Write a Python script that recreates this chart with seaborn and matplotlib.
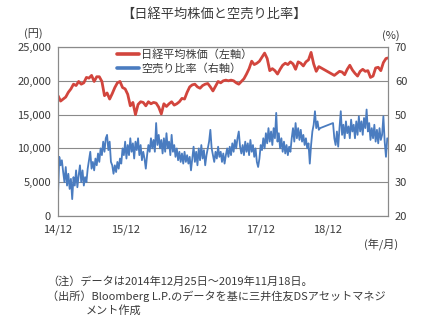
import numpy as np
import pandas as pd
import matplotlib
matplotlib.use("Agg")
import matplotlib.pyplot as plt
import matplotlib.dates as mdates
from matplotlib.ticker import FuncFormatter, FixedLocator
import seaborn as sns

sns.set_style("white")
plt.rcParams["font.family"] = ["Noto Sans CJK JP", "DejaVu Sans"]

# ---- data -------------------------------------------------------------
start = "2014-12-25"
end = "2019-11-18"

# Nikkei 225 (yen), sampled every 14 days from 2014-12-25 (None = no data)
nikkei_2015 = [17800, 17000, 17300, 17600, 18300, 18800, 19500, 19300, 19900, 19500,
               19700, 20500, 20400, 20800, 19900, 20600, 20600, 19900, 17800, 18200,
               17300, 18100, 19000, 19700, 19900, 19000]
nikkei_2016 = [18800, 18000, 16300, 16800, 15000, 16500, 16900, 16800, 16300, 16900,
               16600, 16800, 16700, 16100, 15100, 16600, 16200, 16600, 16900, 16400,
               16600, 16900, 17400, 17300, 18300, 19100]
nikkei_2017 = [19400, 19500, 19100, 18900, 19300, 19500, 19600, 19100, 18500, 19200,
               19900, 19700, 20000, 20100, 20000, 20100, 20000, 19700, 19500, 19900,
               20300, 21000, 21800, 22900, 22400, 22600]
nikkei_2018 = [22900, 23500, 24100, 23300, 21500, 21800, 21500, 21000, 21700, 22300,
               22600, 22400, 22800, 22500, 21700, 22800, 22600, 22200, 22800, 23100,
               24200, 22500, 21400, 22100, None, None]
nikkei_2019 = [None, None, None, 20800, 21100, 21400, 21300, 20900, 21700, 22300,
               21600, 21100, 20700, 21400, 21700, 21400, 21500, 20500, 20700, 21900,
               22000, 21500, 22700, 23300, 23400]

# Short-selling ratio (%), sampled weekly from 2014-12-25 (None = no data)
short_2015 = [26.0, 37.5, 35.0, 36.5, 33.0, 30.0, 34.5, 29.0, 32.5, 28.0,
              31.0, 25.0, 31.5, 29.0, 33.5, 28.5, 32.0, 35.0, 30.0, 33.5,
              29.0, 31.5, 30.0, 34.0, 36.5, 39.0, 34.0, 36.0, 33.5, 37.0,
              35.0, 38.5, 36.0, 40.0, 38.0, 42.0, 39.0, 43.0, 44.0, 39.5,
              42.0, 36.0, 35.0, 32.5, 35.0, 33.0, 36.0, 34.0, 37.0, 35.5,
              40.0, 38.0]
short_2016 = [42.0, 37.0, 41.0, 38.0, 43.0, 39.0, 41.5, 37.0, 42.0, 39.5,
              43.0, 38.0, 41.0, 36.5, 39.0, 37.0, 34.0, 38.0, 41.0, 39.0,
              43.0, 40.0, 42.5, 39.0, 47.5, 41.0, 44.0, 40.0, 42.5, 38.5,
              43.0, 39.0, 44.5, 40.0, 42.0, 38.0, 44.0, 39.0, 41.0, 37.5,
              40.0, 36.5, 39.0, 36.0, 38.5, 35.5, 39.0, 36.0, 38.0, 35.5,
              37.5, 33.5]
short_2017 = [37.0, 40.5, 36.0, 39.0, 35.0, 40.0, 36.5, 41.0, 37.0, 39.5,
              35.0, 38.0, 40.0, 42.0, 45.5, 40.0, 38.0, 36.0, 39.0, 37.0,
              40.5, 37.5, 39.0, 36.0, 38.5, 35.5, 38.0, 40.0, 37.5, 40.5,
              38.0, 41.5, 39.0, 42.5, 40.0, 43.0, 45.0, 40.5, 38.5, 41.0,
              38.0, 42.0, 39.0, 41.5, 38.0, 42.5, 39.0, 41.0, 37.5, 40.0,
              36.0, 34.5]
short_2018 = [37.0, 41.0, 39.5, 43.0, 40.0, 44.5, 41.5, 46.0, 42.0, 45.0,
              41.0, 46.0, 43.0, 50.5, 42.0, 44.5, 40.0, 43.0, 39.0, 42.0,
              38.5, 41.0, 38.0, 40.5, 39.0, 43.0, 46.0, 42.0, 47.5, 43.0,
              46.0, 42.5, 45.5, 42.0, 44.0, 41.0, 43.0, 40.0, 41.5, 35.5,
              41.0, 45.0, 47.0, 51.0, 46.0, 48.0, 45.5, 46.0, None, None,
              None, None]
short_2019 = [None, None, None, None, None, 47.5, 43.0, 41.0, 45.0, 40.5,
              46.0, 51.0, 44.0, 47.0, 43.0, 48.0, 44.5, 46.5, 43.0, 48.5,
              45.0, 47.0, 43.0, 48.0, 44.0, 49.5, 45.0, 48.0, 44.0, 49.0,
              46.0, 51.5, 45.0, 47.5, 42.5, 46.0, 43.0, 47.0, 42.0, 45.5,
              41.5, 46.0, 42.5, 44.0, 49.5, 42.0, 37.5, 43.0]

year_ticks = ["2014-12-25", "2015-12-25", "2016-12-25", "2017-12-25", "2018-12-25"]
year_labels = ["14/12", "15/12", "16/12", "17/12", "18/12"]

title = "【日経平均株価と空売り比率】"
label_nikkei = "日経平均株価（左軸）"
label_short = "空売り比率（右軸）"

# ---- frames -----------------------------------------------------------
nikkei_vals = nikkei_2015 + nikkei_2016 + nikkei_2017 + nikkei_2018 + nikkei_2019
short_vals = short_2015 + short_2016 + short_2017 + short_2018 + short_2019

nikkei = pd.DataFrame({
    "date": pd.date_range(start, periods=len(nikkei_vals), freq="14D"),
    "value": pd.array(nikkei_vals, dtype="Float64"),
}).dropna()
nikkei["value"] = nikkei["value"].astype(float)

short = pd.DataFrame({
    "date": pd.date_range(start, periods=len(short_vals), freq="7D"),
    "value": pd.array(short_vals, dtype="Float64"),
}).dropna()
short["value"] = short["value"].astype(float)

red = "#d2453d"
blue = "#4a7cc0"
grid_c = "#8a8a8a"
text_c = "#3a3a3a"

# ---- figure -----------------------------------------------------------
W, H = 428, 322
fig = plt.figure(figsize=(W / 100, H / 100), dpi=100)
L, R, T, B = 58, 388, 47, 216
ax = fig.add_axes([L / W, 1 - B / H, (R - L) / W, (B - T) / H])
ax2 = ax.twinx()

sns.lineplot(data=nikkei, x="date", y="value", ax=ax, color=red, linewidth=2.0,
             legend=False)
sns.lineplot(data=short, x="date", y="value", ax=ax2, color=blue, linewidth=1.3,
             legend=False)

ax.set_xlim(pd.Timestamp(start), pd.Timestamp(end))
ax.set_ylim(0, 25000)
ax2.set_ylim(20, 70)

ax.yaxis.set_major_locator(FixedLocator(np.arange(0, 25001, 5000)))
ax.yaxis.set_major_formatter(FuncFormatter(lambda v, p: f"{int(v):,}"))
ax2.yaxis.set_major_locator(FixedLocator(np.arange(20, 71, 10)))

ax.set_xticks([mdates.date2num(pd.Timestamp(d)) for d in year_ticks])
ax.set_xticklabels(year_labels)

ax.grid(axis="y", color=grid_c, linewidth=0.8)
ax.grid(axis="x", visible=False)
ax2.grid(False)
ax.set_axisbelow(True)

for a in (ax, ax2):
    a.set_xlabel("")
    a.set_ylabel("")
    for s in a.spines.values():
        s.set_color(grid_c)
        s.set_linewidth(0.8)

ax.tick_params(axis="y", length=0, pad=5, labelsize=8, labelcolor=text_c)
ax2.tick_params(axis="y", length=0, pad=5, labelsize=8, labelcolor=text_c)
ax.tick_params(axis="x", direction="in", length=4, width=0.8, color=grid_c,
               pad=6, labelsize=8, labelcolor=text_c)

# legend (both series)
h1 = plt.Line2D([], [], color=red, linewidth=2.6)
h2 = plt.Line2D([], [], color=blue, linewidth=2.6)
ax2.legend([h1, h2], [label_nikkei, label_short], loc="upper left",
           bbox_to_anchor=((117 - L) / (R - L), 0.985), frameon=False,
           fontsize=8, handlelength=2.0, handletextpad=0.2, labelspacing=0.25,
           borderpad=0, borderaxespad=0, labelcolor=text_c)

# ---- texts ------------------------------------------------------------
def ftxt(x, y, s, **kw):
    fig.text(x / W, 1 - y / H, s, color=text_c, **kw)

ftxt(214, 14, title, ha="center", va="center", fontsize=9.5)
ftxt(33, 34, "(円)", ha="center", va="center", fontsize=8)
ftxt(391, 36, "(%)", ha="center", va="center", fontsize=8)
ftxt(381, 244, "(年/月)", ha="center", va="center", fontsize=8)
ftxt(47, 281, "（注）データは2014年12月25日～2019年11月18日。", ha="left",
     va="center", fontsize=8)
ftxt(47, 296, "（出所）Bloomberg L.P.のデータを基に三井住友DSアセットマネジ",
     ha="left", va="center", fontsize=8)
ftxt(86, 310, "メント作成", ha="left", va="center", fontsize=8)

fig.savefig("out.png", dpi=100)
